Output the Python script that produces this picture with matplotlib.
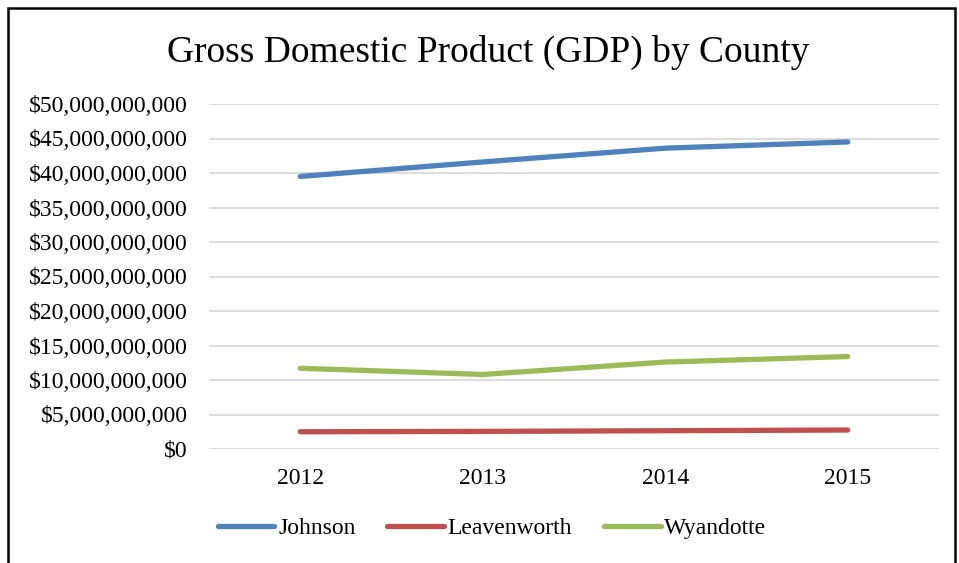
import matplotlib as mpl

mpl.use("Agg")

import matplotlib.pyplot as plt
from matplotlib.patches import Rectangle
from matplotlib.ticker import FuncFormatter, MultipleLocator

plt.rcParams["font.family"] = ["Liberation Serif", "DejaVu Serif"]

years = ["2012", "2013", "2014", "2015"]
johnson = [39.5e9, 41.6e9, 43.6e9, 44.5e9]
leavenworth = [2.5e9, 2.55e9, 2.65e9, 2.75e9]
wyandotte = [11.7e9, 10.8e9, 12.6e9, 13.4e9]

SERIES = [
    ("Johnson", johnson, "#4F81BD"),
    ("Leavenworth", leavenworth, "#C0504D"),
    ("Wyandotte", wyandotte, "#9BBB59"),
]

W, H = 959, 563
fig = plt.figure(figsize=(W / 100, H / 100), dpi=100)
ax = fig.add_axes([209 / W, 1 - 449 / H, 730 / W, 345 / H])

x = list(range(len(years)))
for name, values, color in SERIES:
    ax.plot(x, values, color=color, linewidth=3.8, solid_capstyle="round", label=name)

ax.set_xlim(-0.5, len(years) - 0.5)
ax.set_ylim(0, 50e9)
ax.yaxis.set_major_locator(MultipleLocator(5e9))
ax.yaxis.set_major_formatter(FuncFormatter(lambda v, _: f"${v:,.0f}"))
ax.set_xticks(x, years)
ax.tick_params(axis="both", length=0, labelsize=17)
ax.tick_params(axis="x", pad=14)
ax.tick_params(axis="y", pad=15.5)
ax.grid(axis="y", color="#D9D9D9", linewidth=1.3)
ax.set_axisbelow(True)
for spine in ax.spines.values():
    spine.set_visible(False)

fig.text(488 / W, 1 - 52 / H, "Gross Domestic Product (GDP) by County",
         ha="center", va="center", fontsize=27)

fig.legend(loc="center", bbox_to_anchor=(492 / W, 1 - 528 / H), ncols=3,
           frameon=False, fontsize=17, handlelength=2.4, handletextpad=0.15,
           columnspacing=1.35, borderpad=0)

fig.add_artist(Rectangle((8 / W, -0.1), 947 / W, 1.1 - 8 / H,
                         transform=fig.transFigure, fill=False,
                         edgecolor="black", linewidth=1.8))

fig.savefig("out.png", dpi=100)
